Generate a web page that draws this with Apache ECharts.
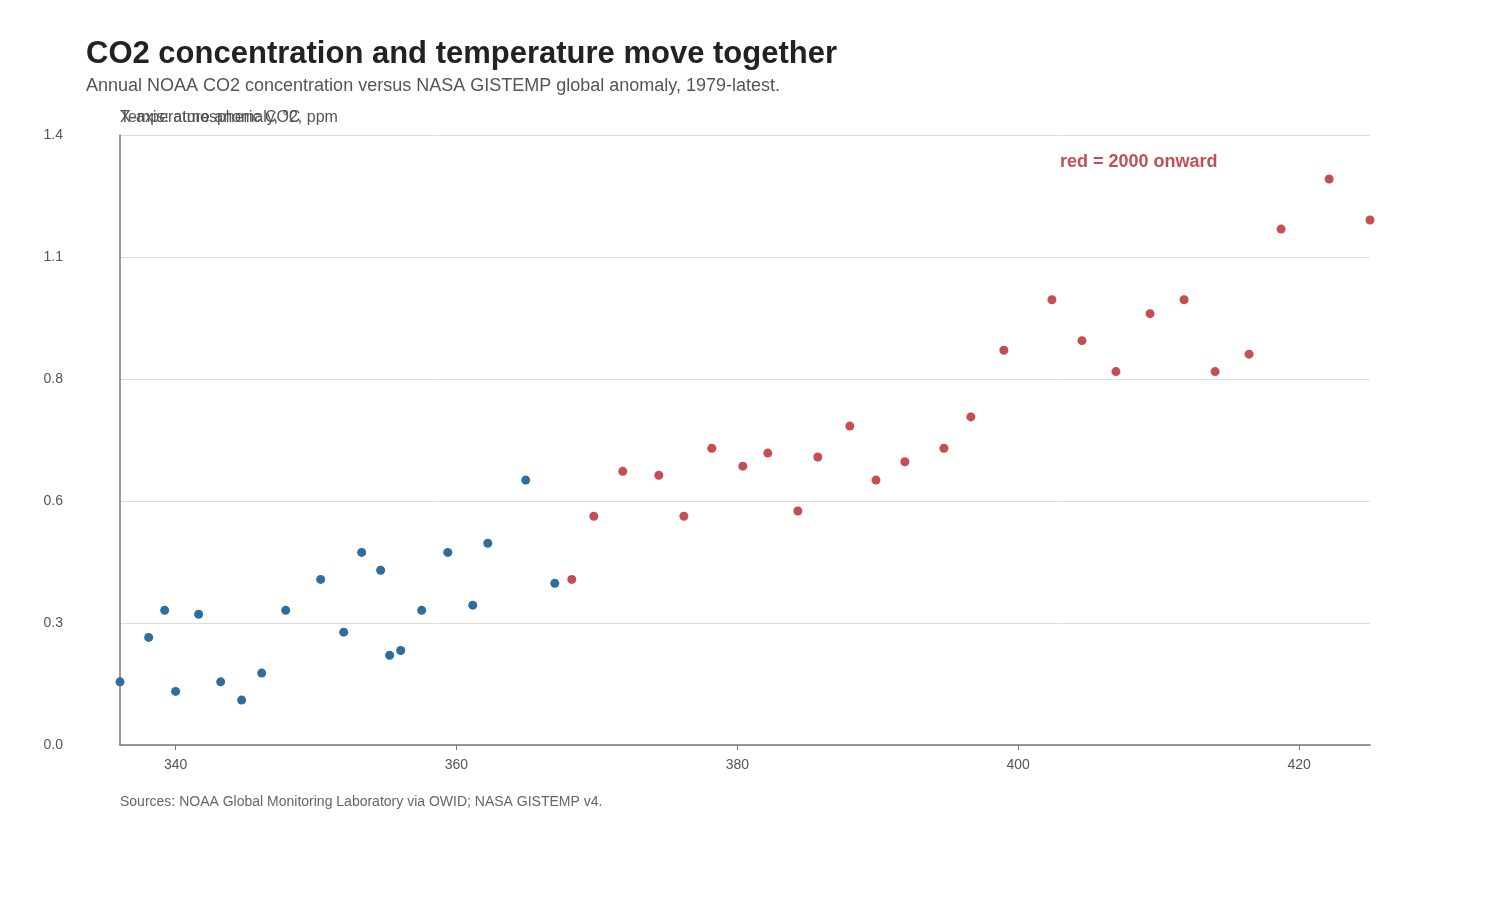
<!DOCTYPE html>
<html>
<head>
<meta charset="utf-8">
<title>CO2 and temperature</title>
<script src="https://cdn.jsdelivr.net/npm/echarts@6/dist/echarts.min.js"></script>
<style>
  html, body { margin: 0; padding: 0; background: #fff; }
  #chart { width: 1500px; height: 900px; }
</style>
</head>
<body>
<div id="chart"></div>
<script>
var firstYear = 1979;
var splitYear = 2000;

// annual CO2, ppm
var co2 = [
  336.04, 338.08, 339.22, 340.00, 341.64, 343.21, 344.70, 346.13, 347.84, 350.33,
  351.97, 353.25, 354.60, 355.24, 356.03, 357.52, 359.38, 361.16, 362.23, 364.93,
  367.00, 368.21, 369.78, 371.84, 374.41, 376.19, 378.18, 380.39, 382.17, 384.31,
  385.73, 388.01, 389.87, 391.93, 394.71, 396.63, 398.98, 402.40, 404.54, 406.96,
  409.39, 411.81, 414.02, 416.44, 418.72, 422.14, 425.05
];

// global temperature anomaly, °C
var anomaly = [
  0.145, 0.247, 0.309, 0.123, 0.300, 0.145, 0.103, 0.165, 0.309, 0.380,
  0.259, 0.442, 0.401, 0.206, 0.217, 0.309, 0.442, 0.321, 0.463, 0.608,
  0.371, 0.380, 0.525, 0.628, 0.619, 0.525, 0.681, 0.640, 0.670, 0.537,
  0.661, 0.732, 0.608, 0.650, 0.681, 0.753, 0.906, 1.022, 0.928, 0.857,
  0.990, 1.022, 0.857, 0.897, 1.184, 1.299, 1.205
];

var yTicks = [0, 0.28, 0.56, 0.84, 1.12, 1.4];

var early = [], late = [];
for (var i = 0; i < co2.length; i++) {
  var pt = [co2[i], anomaly[i], firstYear + i];
  if (firstYear + i < splitYear) early.push(pt); else late.push(pt);
}

var font = 'Liberation Sans, Arial, Helvetica, sans-serif';
var blue = '#2e6d9c';
var red = '#c44e52';

var chart = echarts.init(document.getElementById('chart'));
var option = {
  animation: false,
  textStyle: { fontFamily: font },
  title: [
    {
      text: 'CO2 concentration and temperature move together',
      subtext: 'Annual NOAA CO2 concentration versus NASA GISTEMP global anomaly, 1979-latest.',
      left: 81,
      top: 34,
      itemGap: 7,
      textStyle: { fontFamily: font, fontSize: 31, fontWeight: 'bold', color: '#222' },
      subtextStyle: { fontFamily: font, fontSize: 18, color: '#555' }
    },
    {
      text: 'red = 2000 onward',
      left: 1055,
      top: 148,
      textStyle: { fontFamily: font, fontSize: 18, fontWeight: 'bold', color: red }
    },
    {
      text: 'Sources: NOAA Global Monitoring Laboratory via OWID; NASA GISTEMP v4.',
      left: 115,
      top: 790,
      textStyle: { fontFamily: font, fontSize: 14, fontWeight: 'normal', color: '#666' }
    }
  ],
  graphic: [
    {
      type: 'text',
      left: 120,
      top: 110,
      style: { text: 'X-axis: atmospheric CO2, ppm', fontFamily: font, fontSize: 16, fill: '#555' }
    }
  ],
  grid: { left: 120, right: 130, top: 135, bottom: 155 },
  xAxis: {
    type: 'value',
    min: 'dataMin',
    max: 'dataMax',
    splitLine: { show: false },
    axisLine: { lineStyle: { color: '#777', width: 1.5 } },
    axisTick: { show: true, length: 5, lineStyle: { color: '#777' } },
    axisLabel: { color: '#555', fontSize: 14, margin: 13, showMinLabel: false, showMaxLabel: false }
  },
  yAxis: {
    type: 'value',
    min: yTicks[0],
    max: yTicks[yTicks.length - 1],
    interval: yTicks[1] - yTicks[0],
    name: 'Temperature anomaly, °C',
    nameLocation: 'end',
    nameGap: 17,
    nameTextStyle: { align: 'left', verticalAlign: 'middle', color: '#555', fontSize: 16 },
    axisLine: { show: true, lineStyle: { color: '#777', width: 1.5 } },
    axisTick: { show: false },
    splitLine: { lineStyle: { color: '#ddd', width: 1 } },
    axisLabel: {
      color: '#555',
      fontSize: 14,
      margin: 57,
      formatter: function (v) { return v.toFixed(1); }
    }
  },
  series: [
    {
      name: 'Before 2000',
      type: 'scatter',
      symbolSize: 9,
      itemStyle: { color: blue, opacity: 1 },
      data: early
    },
    {
      name: '2000 onward',
      type: 'scatter',
      symbolSize: 9,
      itemStyle: { color: red, opacity: 1 },
      data: late
    }
  ]
};
chart.setOption(option);
</script>
</body>
</html>
